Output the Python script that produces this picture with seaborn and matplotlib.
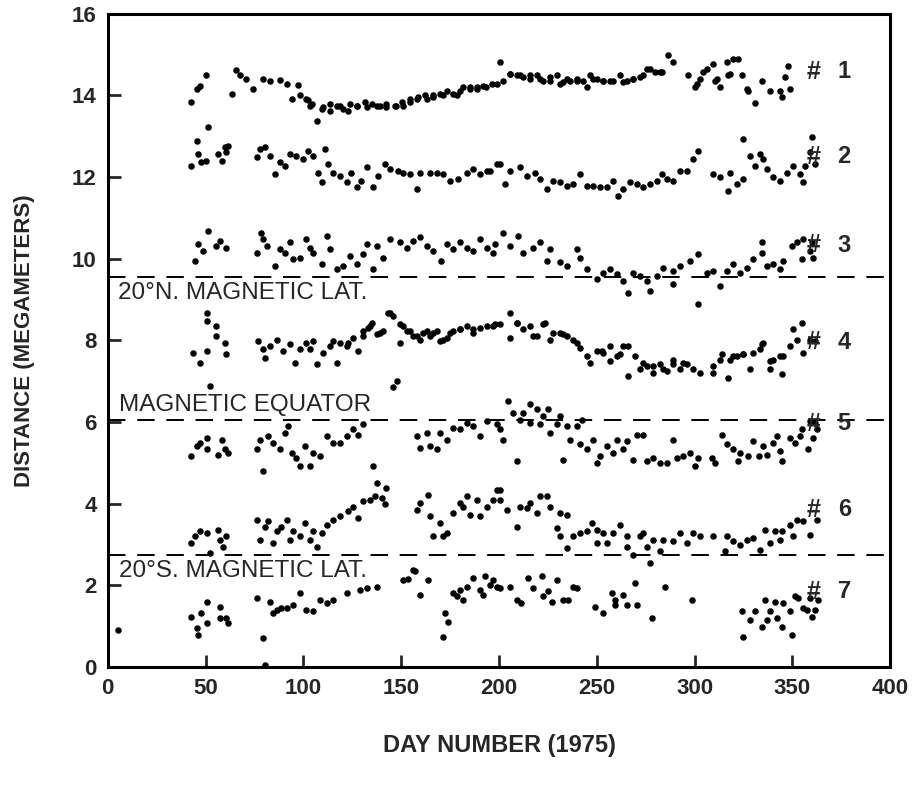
import matplotlib
matplotlib.use("Agg")
import matplotlib.pyplot as plt
import seaborn as sns
import pandas as pd

# ---------------- data ----------------
day1 = [42.8, 45.4, 47, 50, 63.3, 65.5, 67.5, 70.9, 74.2, 79.4, 82.9, 88, 91.4, 94, 97.2, 98.2, 102.3, 103.3,
        106.8, 109.3, 113.5, 118.7, 122.9, 127.2, 132.3, 137.4, 142.5, 147.6, 151, 154.5, 157.9, 163, 166.4,
        171.5, 176.6, 180, 185.2, 188.6, 193.6, 198.8, 200.5, 205.6, 210.7, 215.9, 221, 226.1, 231.2, 234.6,
        239.7, 244.8, 248.2, 253.3, 258.5, 263.6, 268.7, 273.8, 277.2, 282.4, 286.6, 289.2, 296.8, 300.3,
        302.8, 306.2, 309.6, 311.3, 313, 316.4, 317.3, 319.8, 322.4, 324.1, 326.6, 330.9, 334.3, 338.6,
        343.7, 344.5, 346.3, 348, 348.8,
        101.6, 104.2, 110.1, 113.6, 117, 120.4, 123.8, 127.2, 131.5, 134.9, 139.1, 142.5, 146.8, 150.2,
        154.5, 158.7, 162.1, 166.4, 169.8, 173.2, 178.3, 181.7, 185.2, 188.6, 192, 196.3, 202.2, 205.6,
        209.1, 212.4, 215.9, 219.3, 222.7, 226.1, 229.5, 232.9, 236.3, 239.7, 243.1, 246.5, 249.9, 253.3,
        256.8, 261.9, 265.3, 268.7, 272.1, 275.5, 279.8, 283.2, 301, 304.3, 310.7, 318.1, 327.2]
dist1 = [13.83, 14.16, 14.24, 14.5, 14.04, 14.63, 14.49, 14.4, 14.16, 14.4, 14.36, 14.39, 14.28, 13.91, 14.26,
         14.0, 13.9, 13.75, 13.38, 13.67, 13.63, 13.75, 13.63, 13.75, 13.71, 13.75, 13.71, 13.75, 13.75, 13.83,
         13.91, 13.91, 13.95, 14.0, 14.04, 14.12, 14.2, 14.16, 14.2, 14.28, 14.81, 14.53, 14.49, 14.49, 14.4,
         14.36, 14.28, 14.4, 14.36, 14.2, 14.4, 14.36, 14.36, 14.32, 14.4, 14.49, 14.65, 14.57, 15.0, 14.81,
         14.49, 14.2, 14.4, 14.65, 14.77, 14.4, 14.2, 14.81, 14.49, 14.9, 14.9, 14.49, 14.16, 13.82, 14.36,
         14.12, 14.12, 13.95, 14.45, 14.73, 14.16,
         13.91, 13.79, 13.71, 13.79, 13.75, 13.67, 13.79, 13.75, 13.83, 13.79, 13.75, 13.79, 13.75, 13.83,
         13.91, 13.95, 14.0, 14.0, 14.04, 14.12, 14.0, 14.2, 14.16, 14.2, 14.24, 14.28, 14.36, 14.53,
         14.49, 14.45, 14.4, 14.49, 14.36, 14.45, 14.49, 14.32, 14.36, 14.4, 14.36, 14.49, 14.4, 14.36,
         14.36, 14.49, 14.36, 14.4, 14.45, 14.65, 14.57, 14.57, 14.28, 14.57, 14.36, 14.53, 14.12]

day2 = [42.8, 45.4, 46.2, 47.9, 50.1, 51.3, 56.4, 58.2, 59.8, 61.5, 60.7, 76.1, 77.7, 80.3, 82.9, 85.4, 88,
        90.5, 93.1, 96.5, 99.9, 102.5, 105, 107.6, 109.3, 111, 112.7, 115.2, 118.7, 122.1, 124.6, 127.2,
        129.7, 132.3, 135.7, 138.3, 141.7, 144.2, 148.5, 151, 154.5, 157.9, 159.6, 164.7, 168.1, 171.5,
        174.9, 179.2, 183.5, 186.9, 190.3, 193.7, 198.8, 195.4, 200.5, 205.6, 203.1, 210.7, 214.2, 218.4,
        221, 224.4, 227.8, 231.2, 234.6, 238, 241.4, 244.8, 248.2, 251.7, 255.1, 258.5, 261, 263.6, 267,
        270.4, 273.8, 277.2, 280.6, 283.2, 285.7, 289.2, 292.6, 296, 299.4, 301.9, 309.6, 313, 317.3, 318.1,
        321.6, 325, 325, 328.4, 330.9, 333.5, 335.2, 336.9, 340.3, 343.7, 347.1, 350.5, 353.9, 355.6, 356.5,
        359, 359.9, 361.6]
dist2 = [12.28, 12.89, 12.56, 12.36, 12.40, 13.22, 12.56, 12.40, 12.73, 12.77, 12.61, 12.48, 12.69, 12.73,
         12.52, 12.07, 12.36, 12.28, 12.56, 12.52, 12.44, 12.65, 12.52, 12.11, 11.87, 12.69, 12.32, 12.11,
         12.03, 11.87, 12.11, 11.75, 11.91, 12.24, 11.75, 12.03, 12.32, 12.2, 12.15, 12.11, 12.07, 11.71,
         12.11, 12.11, 12.11, 12.07, 11.91, 11.95, 12.11, 12.2, 12.07, 12.15, 12.32, 12.15, 12.32, 12.15,
         11.83, 12.24, 12.03, 12.11, 11.95, 11.71, 11.91, 11.87, 11.79, 11.83, 12.07, 11.79, 11.79, 11.75,
         11.75, 11.91, 11.54, 11.71, 11.87, 11.83, 11.75, 11.83, 11.91, 12.07, 11.95, 11.91, 12.15, 12.15,
         12.44, 12.65, 12.07, 11.99, 11.66, 12.11, 11.83, 11.95, 12.93, 12.52, 12.28, 12.56, 12.44, 12.2,
         11.99, 11.91, 12.11, 12.28, 12.07, 11.87, 12.28, 12.61, 12.97, 12.32]

day3 = [44.5, 46.2, 48.7, 51.3, 55.6, 57.3, 60.7, 76.1, 78.6, 79.4, 81.2, 85.4, 88, 90.5, 93.1, 94.8, 98.2,
        101.6, 103.3, 105, 109.3, 111.9, 113.6, 117, 120.4, 123.8, 127.2, 130.6, 132.3, 135.7, 137.4, 140.8,
        144.2, 149.4, 152.8, 156.2, 159.6, 163, 166.4, 170.6, 173.2, 176.6, 180, 183.5, 186.9, 190.3, 193.7,
        198, 197.1, 202.2, 205.6, 209.9, 212.4, 217.5, 221, 224.4, 226.1, 231.2, 234.6, 239.7, 241.4, 244.8,
        249.9, 253.3, 256.8, 260.2, 263.6, 266.1, 268.7, 272.1, 275.5, 277.2, 280.6, 284, 289.2, 289.2, 292.6,
        297.7, 301.9, 301.9, 306.2, 309.6, 313, 316.4, 319.8, 323.3, 326.7, 330.1, 334.3, 334.3, 336.9,
        340.3, 343.7, 345.4, 349.7, 352.2, 354.8, 355.6, 359, 360.8, 359.9]
dist3 = [9.95, 10.36, 10.19, 10.68, 10.31, 10.44, 10.27, 10.15, 10.64, 10.48, 10.31, 9.82, 10.23, 10.15, 10.4,
         9.99, 10.03, 10.48, 10.27, 10.15, 9.87, 10.56, 10.23, 9.74, 9.82, 10.07, 9.87, 10.11, 10.36, 9.74,
         10.31, 10.03, 10.48, 10.4, 10.27, 10.44, 10.52, 10.31, 10.19, 9.95, 10.36, 10.23, 10.4, 10.27, 10.19,
         10.48, 10.27, 10.36, 10.15, 10.64, 10.31, 10.56, 10.15, 10.27, 10.4, 9.95, 10.23, 9.91, 9.82, 10.23,
         10.03, 9.74, 9.5, 9.66, 9.74, 9.62, 9.46, 9.17, 9.66, 9.58, 9.46, 9.21, 9.58, 9.78, 9.7, 9.37, 9.82,
         9.95, 10.11, 8.88, 9.66, 9.7, 9.33, 9.7, 9.87, 9.66, 9.78, 9.99, 10.15, 10.4, 9.82, 9.87, 9.74, 9.95,
         10.31, 10.4, 9.99, 10.48, 10.19, 10.03, 10.4]

day4 = [43.6, 47.1, 50.5, 50.5, 50.5, 55.6, 55.6, 59.8, 60.7, 76.9, 79.4, 80.3, 82.9, 86.3, 89.7, 93.1, 95.7,
        98.2, 101.6, 103.3, 106.8, 110.1, 113.6, 117, 118.7, 122.1, 125.5, 128, 130.6, 133.2, 134.9, 137.4,
        140.8, 143.4, 145.9, 149.4, 151, 154.5, 157.9, 161.3, 164.7, 168.1, 171.5, 174.9, 180, 183.5, 186.9,
        190.3, 193.7, 198, 200.5, 205.6, 205.6, 209.1, 212.4, 215.9, 219.3, 223.5, 226.1, 231.2, 234.6,
        239.7, 241.4, 244.8, 246.5, 249.9, 253.3, 256.8, 260.2, 263.6, 266.1, 269.6, 272.1, 275.5, 278.9,
        282.4, 285.7, 289.2, 292.6, 296, 299.4, 302.8, 309.6, 313, 317.3, 318.1, 321.5, 325, 328.4, 330.1,
        333.5, 335.2, 338.6, 340.3, 344.5, 345.4, 348.8, 350.5, 352.2, 354.8, 355.6, 359, 361.6,
        105, 115.3, 122.9, 130.6, 134, 139.1, 144.2, 149.4, 152.8, 156.2, 159.6, 163, 166.4, 169.8, 173.2,
        176.6, 180, 186.9, 197.1, 209.1, 217.5, 222.7, 227.8, 232.9, 238, 252.5, 256.8, 261.9, 266.1,
        273.8, 278.9, 284, 289.2, 294.3, 309.6, 313.9, 319.8, 325, 334.3, 338.6, 343.7]
dist4 = [7.7, 7.45, 7.74, 8.68, 8.47, 8.35, 8.11, 7.94, 7.66, 7.98, 7.78, 7.58, 7.86, 8.02, 7.74, 7.9, 7.45,
         7.78, 7.94, 7.78, 7.41, 7.7, 7.86, 7.45, 7.94, 7.86, 8.07, 7.74, 8.11, 8.31, 8.43, 8.15, 8.23, 8.68,
         8.6, 7.94, 8.35, 8.23, 8.11, 8.19, 8.11, 8.23, 8.02, 8.19, 8.27, 8.35, 8.19, 8.31, 8.35, 8.39, 8.39,
         8.68, 8.07, 8.43, 8.27, 8.35, 8.11, 8.43, 8.02, 8.19, 8.11, 7.94, 7.82, 7.61, 7.45, 7.74, 7.7, 7.5,
         7.61, 7.86, 7.12, 7.61, 7.29, 7.37, 7.21, 7.41, 7.25, 7.53, 7.29, 7.41, 7.29, 7.21, 7.21, 7.53, 7.08,
         7.53, 7.61, 7.66, 7.29, 7.7, 7.78, 7.94, 7.29, 7.53, 7.17, 7.61, 7.86, 8.27, 8.02, 8.43, 7.7, 8.02,
         7.98,
         7.98, 7.98, 7.94, 8.23, 8.35, 8.19, 8.68, 8.39, 8.23, 8.11, 8.02, 8.23, 8.19, 7.98, 8.07,
         8.23, 8.27, 8.27, 8.35, 8.43, 8.11, 8.39, 8.19, 8.15, 8.02, 7.74, 7.86, 7.66, 7.86,
         7.45, 7.37, 7.29, 7.41, 7.45, 7.37, 7.66, 7.61, 7.66, 7.9, 7.5, 7.61]

day5 = [42.8, 45.4, 47.1, 50.5, 50.5, 52.2, 56.4, 58.2, 59.8, 61.5, 76.1, 77.7, 79.4, 82, 84.6, 88, 90.5,
        92.2, 94, 96.5, 98.2, 100.8, 103.3, 105, 108.4, 111.9, 115.3, 118.7, 122.1, 125.5, 128, 130.6, 145.8,
        148, 157.9, 159.6, 163, 164.7, 168.1, 169.8, 173.2, 176.6, 180, 183.5, 186.9, 190.3, 193.7, 198.8,
        200.5, 202.2, 204.8, 207.4, 209.1, 210.7, 212.4, 215.9, 215.9, 219.3, 221, 222.7, 225.3, 226.1,
        229.5, 231.2, 232.9, 234.6, 236.3, 239.7, 241.4, 242.3, 244.8, 248.2, 249.9, 251.7, 255.1, 258.5,
        260.2, 263.6, 265.3, 268.7, 270.4, 273.8, 275.5, 278.9, 282.4, 285.7, 289.2, 290.9, 294.3, 297.7,
        300.3, 302, 308.7, 310.4, 313.9, 316.4, 319.8, 322.4, 323.3, 327.5, 330.1, 332.7, 335.2, 336.9,
        340.3, 342, 343.7, 344.5, 348.8, 351.4, 353.9, 354.8, 358.2, 359, 360.8, 362.5, 361.6]
dist5 = [5.16, 5.41, 5.49, 5.61, 5.33, 6.88, 5.2, 5.57, 5.33, 5.24, 5.33, 5.57, 4.79, 5.65, 5.49, 5.33, 5.73,
         5.9, 5.24, 5.12, 4.92, 5.41, 4.92, 5.24, 5.16, 5.65, 5.49, 5.49, 5.65, 5.82, 5.69, 5.94, 6.85, 7.0,
         5.65, 5.37, 5.73, 5.41, 5.33, 5.73, 5.57, 5.86, 5.82, 5.98, 5.9, 5.65, 6.02, 5.94, 5.82, 5.57, 6.51,
         6.23, 5.04, 6.06, 6.23, 6.43, 5.98, 6.31, 5.94, 6.14, 6.31, 5.73, 5.94, 6.14, 5.08, 5.9, 5.57, 5.9,
         5.45, 6.06, 5.33, 5.57, 5.0, 5.16, 5.41, 5.24, 5.57, 5.33, 5.53, 5.08, 5.69, 5.69, 5.04, 5.12, 5.0,
         5.0, 5.57, 5.12, 5.16, 5.24, 4.92, 5.12, 5.12, 5.0, 5.69, 5.45, 5.33, 5.04, 5.24, 5.16, 5.53, 5.16,
         5.41, 5.2, 5.49, 5.65, 5.28, 5.04, 5.61, 5.49, 5.65, 5.82, 5.33, 6.02, 5.61, 5.82, 5.98]

day6 = [42.8, 44.5, 47.1, 50.5, 52.2, 56.4, 57.3, 59, 60.7, 76.1, 77.7, 80.3, 82, 84.6, 86.3, 88.8, 91.4,
        93.1, 94.8, 98.2, 100.8, 103.3, 105, 106.8, 109.3, 111.9, 115.3, 118.7, 122.9, 125.5, 128, 130.6,
        134, 136.6, 137.4, 140, 141.7, 142.5, 135.7, 157.9, 159.6, 163.9, 164.7, 166.4, 169.8, 171.5, 173.2,
        176.6, 180, 181.7, 183.5, 185.2, 188.6, 190.3, 193.7, 197.1, 198.8, 200.5, 200.5, 203.9, 209.1,
        210.7, 214.1, 215.9, 219.3, 221, 224.4, 226.1, 229.5, 231.2, 231.2, 234.6, 234.6, 238, 241.4, 244.8,
        247.4, 249.9, 249.9, 253.3, 255, 258.5, 261.9, 265.3, 265.3, 268.7, 272.1, 273.8, 275.5, 277.2,
        278.9, 282.4, 284, 289.2, 292.6, 296, 299.4, 302.8, 309.6, 315.6, 316.4, 319.8, 323.3, 326.7, 330.1,
        333.5, 336.1, 338.6, 341.2, 343.7, 344.5, 348.8, 350.5, 352.2, 355.6, 359, 362.5]
dist6 = [3.04, 3.2, 3.32, 3.28, 2.79, 3.36, 3.12, 2.95, 3.2, 3.61, 3.12, 3.44, 3.57, 3.04, 3.32, 3.44, 3.61,
         3.12, 3.32, 3.2, 3.53, 3.12, 3.32, 2.95, 3.28, 3.48, 3.61, 3.69, 3.81, 3.93, 3.65, 4.06, 4.1, 4.18,
         4.51, 4.14, 3.98, 4.39, 4.92, 3.85, 4.02, 4.22, 3.69, 3.2, 3.53, 3.2, 3.28, 3.77, 4.02, 3.93, 4.18,
         3.73, 4.1, 3.69, 3.93, 4.1, 4.34, 4.34, 4.1, 3.85, 3.44, 3.93, 3.89, 4.02, 3.77, 4.18, 4.18, 3.93,
         3.4, 3.77, 3.2, 3.73, 2.91, 3.2, 3.28, 3.32, 3.53, 3.36, 3.04, 3.28, 3.04, 3.28, 3.48, 2.95, 3.2,
         2.75, 3.2, 3.28, 2.95, 2.54, 3.12, 2.83, 3.12, 3.08, 3.28, 3.04, 3.28, 3.2, 3.2, 2.83, 3.2, 3.08,
         2.99, 3.12, 3.16, 2.87, 3.36, 3.04, 3.32, 3.12, 3.32, 3.48, 3.2, 3.61, 3.57, 3.24, 3.61]

day7 = [5.3, 42.8, 45.4, 46.2, 47.9, 50.5, 50.5, 57.3, 57.3, 60.7, 61.5, 76.1, 79.4, 80.3, 82.9, 84.6, 86.3,
        88.8, 91.4, 94.8, 98.2, 101.6, 105, 108.4, 111.9, 115.3, 122.1, 128.9, 132.3, 137.4, 151, 153.6, 156,
        157, 159.6, 163.9, 171.5, 172.4, 174.1, 176.6, 178.3, 180, 181.7, 183.5, 186.9, 190.3, 192, 192.8,
        195.4, 197.1, 198.8, 200.5, 205.6, 209.1, 211.5, 215, 217.5, 221.8, 222.7, 225.2, 226.9, 229.5,
        232.9, 235.5, 238, 239.7, 249.1, 253.3, 257.6, 259.3, 259.3, 263.6, 265.3, 269.6, 270.4, 278.1,
        284.9, 298.5, 324.1, 325, 328.4, 330.9, 334.3, 336.1, 336.9, 338.6, 341.2, 342, 344.5, 345.4, 348.8,
        349.7, 351.4, 353.1, 355.6, 357.3, 359, 359.9, 361.6, 363.3]
dist7 = [0.91, 1.23, 0.95, 0.79, 1.32, 1.6, 1.07, 1.48, 1.19, 1.19, 1.07, 1.69, 0.7, 0.05, 1.6, 1.32, 1.4,
         1.44, 1.44, 1.52, 1.81, 1.4, 1.36, 1.64, 1.56, 1.64, 1.81, 1.89, 1.93, 1.97, 2.13, 2.16, 2.38, 2.34,
         1.77, 2.13, 0.74, 1.32, 1.11, 1.81, 1.73, 1.89, 1.64, 1.97, 2.18, 1.89, 1.77, 2.22, 2.01, 2.13, 1.97,
         1.93, 1.97, 1.64, 1.56, 2.18, 1.93, 2.22, 1.73, 1.85, 1.6, 2.13, 1.64, 1.64, 1.97, 1.93, 1.48, 1.32,
         1.81, 1.64, 1.52, 1.77, 1.52, 2.05, 1.52, 1.19, 1.97, 1.64, 1.36, 0.74, 1.15, 1.36, 0.99, 1.64, 1.15,
         1.36, 1.6, 1.19, 0.99, 1.56, 1.36, 0.79, 1.73, 1.69, 1.44, 1.4, 1.69, 1.23, 1.4, 1.64]

station_marks = ["#", "#", "#", "#", "#", "#", "#"]
station_numbers = ["1", "2", "3", "4", "5", "6", "7"]
label_levels = [14.58, 12.5, 10.33, 7.95, 5.96, 3.85, 1.84]

ref_levels = [9.55, 6.05, 2.75]
ref_names = ["20\u00b0N. MAGNETIC LAT.", "MAGNETIC EQUATOR", "20\u00b0S. MAGNETIC LAT."]

x_ticks = [0, 50, 100, 150, 200, 250, 300, 350, 400]
y_ticks = [0, 2, 4, 6, 8, 10, 12, 14, 16]

# ---------------- build table ----------------
days = [day1, day2, day3, day4, day5, day6, day7]
dists = [dist1, dist2, dist3, dist4, dist5, dist6, dist7]
frames = []
for num, d, v in zip(station_numbers, days, dists):
    frames.append(pd.DataFrame({"day": d, "distance": v, "station": num}))
df = pd.concat(frames, ignore_index=True)

# ---------------- plot ----------------
sns.set_style("white")
plt.rcParams["font.family"] = ["Liberation Sans", "DejaVu Sans"]

fig = plt.figure(figsize=(9.13, 7.87), dpi=100)
ax = fig.add_axes([0.118, 0.1525, 0.857, 0.83])

sns.scatterplot(data=df, x="day", y="distance", color="black", s=22, linewidth=0,
                legend=False, ax=ax)

for lvl in ref_levels:
    ax.axhline(lvl, color="black", lw=1.4, ls=(0, (9, 6)), zorder=1)

ax.text(5, ref_levels[0] - 0.12, ref_names[0], fontsize=17.5, va="top", ha="left")
ax.text(6, ref_levels[1] + 0.1, ref_names[1], fontsize=17.5, va="bottom", ha="left")
ax.text(6, ref_levels[2] - 0.12, ref_names[2], fontsize=17.5, va="top", ha="left")

for mk, num, lvl in zip(station_marks, station_numbers, label_levels):
    ax.text(361, lvl, mk, fontsize=18, fontweight="bold", ha="center", va="center")
    ax.text(376.5, lvl, num, fontsize=17, fontweight="bold", ha="center", va="center")

ax.set_xlim(0, 400)
ax.set_ylim(0, 16)
ax.set_xticks(x_ticks)
ax.set_yticks(y_ticks)
ax.tick_params(direction="in", length=9, width=2, labelsize=16, pad=8,
               bottom=True, left=True, top=False, right=False)
for t in ax.get_xticklabels() + ax.get_yticklabels():
    t.set_fontweight("bold")
for sp in ax.spines.values():
    sp.set_visible(True)
    sp.set_color("black")
    sp.set_linewidth(2.2)

ax.set_xlabel("")
ax.set_ylabel("DISTANCE (MEGAMETERS)", fontsize=16, fontweight="bold", va="center")
ax.yaxis.set_label_coords(-0.106, 0.5)
fig.text(0.547, 0.053, "DAY NUMBER (1975)", fontsize=17, fontweight="bold",
         ha="center", va="center")
ax.grid(False)

fig.savefig("out.png", dpi=100)
